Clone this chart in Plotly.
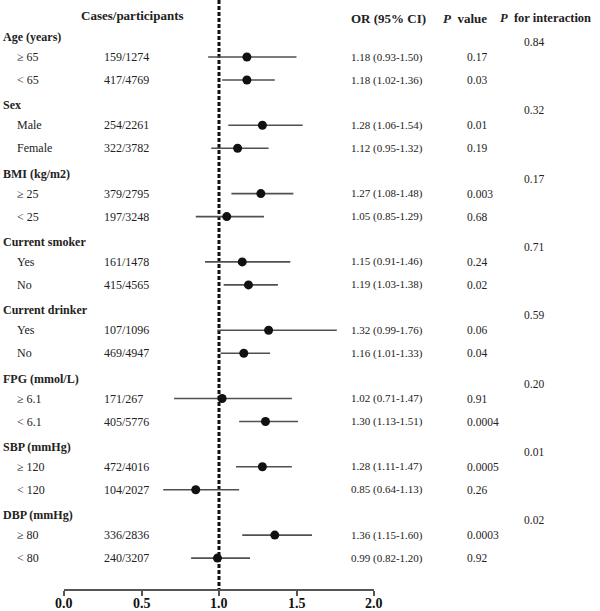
import plotly.graph_objects as go

# ---------------- data ----------------
groups = ["Age (years)", "Sex", "BMI (kg/m2)", "Current smoker", "Current drinker",
          "FPG (mmol/L)", "SBP (mmHg)", "DBP (mmHg)"]
subgroups = ["≥ 65", "&lt; 65", "Male", "Female", "≥ 25", "&lt; 25", "Yes", "No",
             "Yes", "No", "≥ 6.1", "&lt; 6.1", "≥ 120", "&lt; 120", "≥ 80", "&lt; 80"]
cases = ["159/1274", "417/4769", "254/2261", "322/3782", "379/2795", "197/3248",
         "161/1478", "415/4565", "107/1096", "469/4947", "171/267", "405/5776",
         "472/4016", "104/2027", "336/2836", "240/3207"]
or_vals = [1.18, 1.18, 1.28, 1.12, 1.27, 1.05, 1.15, 1.19, 1.32, 1.16, 1.02, 1.30,
           1.28, 0.85, 1.36, 0.99]
ci_low = [0.93, 1.02, 1.06, 0.95, 1.08, 0.85, 0.91, 1.03, 0.99, 1.01, 0.71, 1.13,
          1.11, 0.64, 1.15, 0.82]
ci_high = [1.50, 1.36, 1.54, 1.32, 1.48, 1.29, 1.46, 1.38, 1.76, 1.33, 1.47, 1.51,
           1.47, 1.13, 1.60, 1.20]
p_values = ["0.17", "0.03", "0.01", "0.19", "0.003", "0.68", "0.24", "0.02",
            "0.06", "0.04", "0.91", "0.0004", "0.0005", "0.26", "0.0003", "0.92"]
p_interaction = ["0.84", "0.32", "0.17", "0.71", "0.59", "0.20", "0.01", "0.02"]
x_ticks = [0.0, 0.5, 1.0, 1.5, 2.0]
x_ticklabels = ["0.0", "0.5", "1.0", "1.5", "2.0"]

# ---------------- layout helpers ----------------
W, H = 600, 611
AXIS_Y = 589          # pixel row of the x axis line
TICKLABEL_GAP = 14
GROUP_TOP = 37
GROUP_STEP = 68.3
SUB_OFFS = [20, 43]

def group_y(g):
    return GROUP_TOP + g * GROUP_STEP

row_y = []
for g in range(len(groups)):
    for k in range(2):
        row_y.append(group_y(g) + SUB_OFFS[k])

def px(x):
    return x / W

serif = "Liberation Serif, Times New Roman, serif"
TXT = "#222222"

fig = go.Figure()

fig.add_trace(go.Scatter(
    x=or_vals, y=row_y, mode="markers",
    marker=dict(color="#111111", size=9, symbol="circle"),
    error_x=dict(type="data", symmetric=False,
                 array=[h - o for h, o in zip(ci_high, or_vals)],
                 arrayminus=[o - l for o, l in zip(or_vals, ci_low)],
                 width=0, thickness=1.6, color="#505050"),
    showlegend=False, hoverinfo="skip", cliponaxis=False,
))

# reference dashed line at OR = 1
fig.add_shape(type="line", xref="x", yref="y", x0=1, x1=1, y0=0, y1=AXIS_Y,
              line=dict(color="#111111", width=3, dash="4px,2px"), layer="below")

ann = []

def add(text, x, y, size=12, anchor="left", bold=False, color=TXT):
    if bold:
        text = "<b>" + text + "</b>"
    ann.append(dict(text=text, x=px(x), y=y, xref="paper", yref="y",
                    xanchor=anchor, yanchor="middle", showarrow=False,
                    borderpad=0, font=dict(family=serif, size=size, color=color)))

# column headers
add("Cases/participants", 80, 15, size=13, bold=True)
add("OR (95% CI)", 350, 18, size=13, bold=True)
add("<i>P</i>  value", 442, 18, size=13, bold=True)
add("<i>P</i>  for interaction", 499, 18, size=12.5, bold=True)

for g, name in enumerate(groups):
    add(name, 2, group_y(g), size=12, bold=True)
    add(p_interaction[g], 523, group_y(g) + 5, size=11.5)

for i in range(len(subgroups)):
    y = row_y[i]
    add(subgroups[i], 16, y, size=12)
    add(cases[i], 103, y, size=12)
    add(f"{or_vals[i]:.2f} ({ci_low[i]:.2f}-{ci_high[i]:.2f})", 350, y, size=11)
    add(p_values[i], 466, y, size=11.5)

# x tick labels placed through the x axis scale (below the plot area -> paper y)
for tv, tl in zip(x_ticks, x_ticklabels):
    ann.append(dict(text="<b>" + tl + "</b>", x=tv,
                    y=(H - (AXIS_Y + TICKLABEL_GAP)) / H,
                    xref="x", yref="paper", xanchor="center", yanchor="middle",
                    showarrow=False, borderpad=0,
                    font=dict(family=serif, size=14, color="#111111")))

fig.update_layout(
    width=W, height=H,
    margin=dict(l=0, r=0, t=0, b=0, autoexpand=False),
    paper_bgcolor="white", plot_bgcolor="white",
    annotations=ann,
    xaxis=dict(domain=[64 / W, 374 / W], range=[0, 2], showgrid=False, zeroline=False,
               showline=True, linecolor="#555555", linewidth=1.5,
               ticks="outside", ticklen=5, tickwidth=1.5, tickcolor="#555555",
               tickvals=x_ticks, showticklabels=False,
               anchor="y", fixedrange=True, automargin=False),
    yaxis=dict(domain=[1 - AXIS_Y / H, 1], range=[AXIS_Y, 0], visible=False,
               showgrid=False, zeroline=False, fixedrange=True, automargin=False),
)

fig.write_html("out.html", config={"displayModeBar": False},
               post_script="document.body.style.margin='0';document.body.style.overflow='hidden';")
